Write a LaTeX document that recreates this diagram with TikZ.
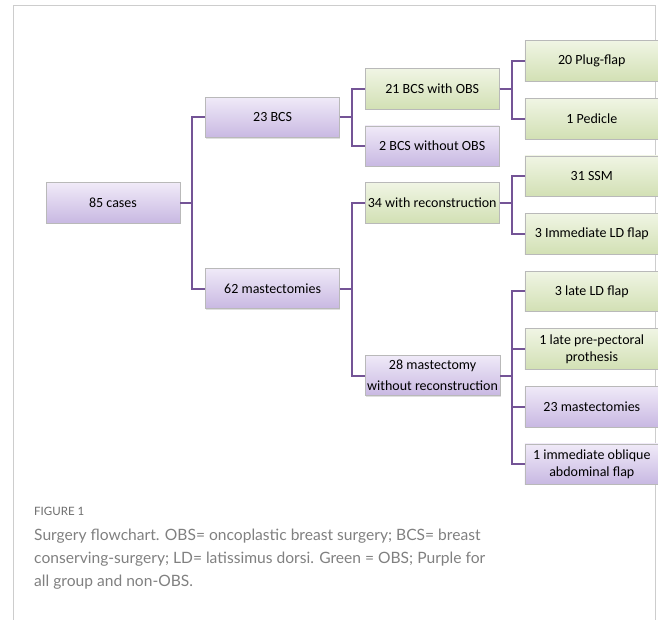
\documentclass[tikz,border=0pt]{standalone}
\usepackage{fontspec}
\setmainfont{Carlito}
\newfontfamily\capfont{Lato}
\usepackage{tikz}
\usetikzlibrary{positioning, shadows}

\definecolor{lineviolet}{RGB}{116,84,150}
\definecolor{violettop}{RGB}{240,234,248}
\definecolor{violetbot}{RGB}{200,184,226}
\definecolor{greentop}{RGB}{240,245,228}
\definecolor{greenbot}{RGB}{210,224,180}
\definecolor{framegray}{RGB}{205,205,205}
\definecolor{capgray}{RGB}{128,128,128}

\begin{document}
\begin{tikzpicture}[
    x=1pt, y=1pt,
    node distance=16.5pt and 25pt,
    box/.style={rectangle, draw=gray!55, line width=0.6pt, minimum width=134pt, minimum height=40.5pt,
        inner xsep=2pt, inner ysep=1pt, align=center, font=\fontsize{14}{17}\selectfont,
        drop shadow={opacity=0.25, shadow xshift=0.8pt, shadow yshift=-0.8pt}},
    allbox/.style={box, top color=violettop, bottom color=violetbot},
    obsbox/.style={box, top color=greentop, bottom color=greenbot},
    link/.style={draw=lineviolet, line width=2pt}
]
\useasboundingbox (0,0) rectangle (658,-620);

% outer frame
\draw[framegray, line width=1pt] (13,-620) |- (655,-6) -- (655,-620);

% level 1 and 2
\node[allbox] (cases) at (113,-203) {85 cases};
\node[allbox, right=25pt of cases, yshift=85.5pt] (bcs) {23 BCS};
\node[allbox, right=25pt of cases, yshift=-85.5pt] (mast) {62 mastectomies};

% level 3
\node[obsbox, right=25pt of bcs, yshift=28.5pt] (bcsobs) {21 BCS with OBS};
\node[allbox, below=16pt of bcsobs] (bcsnoobs) {2 BCS without OBS};
\node[obsbox, right=25pt of mast, yshift=85.5pt] (recon) {34 with reconstruction};
\node[allbox, right=25pt of mast, yshift=-87pt, font=\fontsize{14}{21}\selectfont] (norecon) {28 mastectomy\\without reconstruction};

% level 4
\node[obsbox, right=25pt of bcsobs, yshift=28pt] (plug) {20 Plug-flap};
\node[obsbox, below=of plug] (pedicle) {1 Pedicle};
\node[obsbox, below=of pedicle] (ssm) {31 SSM};
\node[obsbox, below=of ssm] (immld) {3 Immediate LD flap};
\node[obsbox, below=of immld] (lateld) {3 late LD flap};
\node[obsbox, below=of lateld] (prepec) {1 late pre-pectoral\\prothesis};
\node[allbox, below=of prepec] (mast23) {23 mastectomies};
\node[allbox, below=of mast23] (oblique) {1 immediate oblique\\abdominal flap};

% connectors
\foreach \a/\b in {cases/bcs, cases/mast, bcs/bcsobs, bcs/bcsnoobs, mast/recon, mast/norecon,
    bcsobs/plug, bcsobs/pedicle, recon/ssm, recon/immld,
    norecon/lateld, norecon/prepec, norecon/mast23, norecon/oblique}
    \draw[link] (\a.east) -- ++(12pt,0) |- (\b.west);

% caption
\node[anchor=north west, inner sep=0pt, text=capgray!85!black, font=\capfont\fontsize{11.5}{13}\selectfont] (figlabel) at (34,-507) {FIGURE 1};
\node[anchor=north west, inner sep=0pt, align=left, text=capgray, font=\capfont\fontsize{15.6}{23}\selectfont] (caption) at (34,-529)
    {Surgery flowchart. OBS= oncoplastic breast surgery; BCS= breast\\
     conserving-surgery; LD= latissimus dorsi. Green = OBS; Purple for\\
     all group and non-OBS.};
\end{tikzpicture}
\end{document}
